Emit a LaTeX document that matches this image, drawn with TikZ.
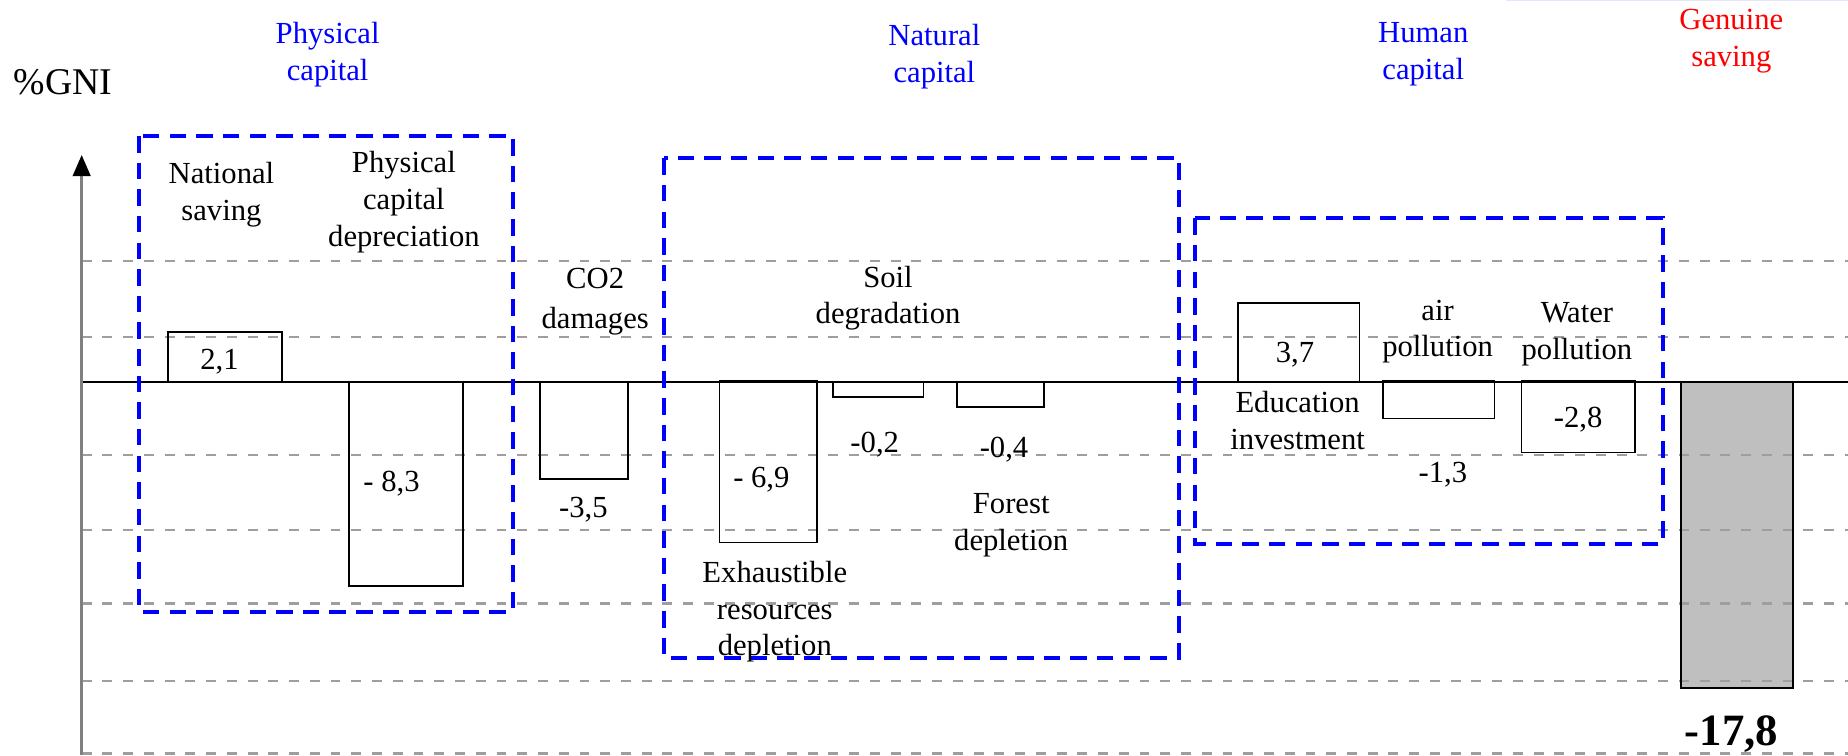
\documentclass[tikz,border=0pt]{standalone}
\usepackage{fontspec}
\setmainfont{Liberation Serif}
\usetikzlibrary{arrows.meta}
\tikzset{
  gridline/.style={draw=black!38, line width=1pt, dash pattern=on 4.2pt off 4.6pt},
  groupbox/.style={draw=blue, line width=1.7pt, dash pattern=on 7pt off 4.3pt},
  barbox/.style={draw=black, line width=0.75pt},
  lbl/.style={font=\fontsize{13}{15.5}\selectfont, align=center, inner sep=0pt},
  grp/.style={lbl, text=blue},
}
\begin{document}
\begin{tikzpicture}[x=0.5pt, y=-0.5pt]
\useasboundingbox (0,0) rectangle (1568,641);
% faint line at top right
\draw[draw=black!12!blue!10, line width=0.6pt] (1278,0.5) -- (1568,0.5);
% genuine saving fill
\fill[black!25] (1426.5,323.8) rectangle (1521,584);
% grid lines
\foreach \yy in {221.7,285.7,386,449.9,512,577.6,639.2}
  \draw[gridline] (69.3,\yy) -- (1568,\yy);
% zero line
\draw[black, line width=0.8pt] (69.3,323.8) -- (1568,323.8);
% axis
\draw[draw=black!50, line width=1.1pt, -{Triangle[length=9pt,width=7.5pt,color=black]}] (69.3,641) -- (69.3,131.5);
% bars
\draw[barbox] (142.3,323.8) rectangle (239,281.4);
\draw[barbox] (296,323.8) rectangle (393,497.2);
\draw[barbox] (458,323.8) rectangle (532.6,406.7);
\draw[barbox] (610.4,322.8) rectangle (693,460.4);
\draw[barbox] (707,323.8) rectangle (783.5,337.1);
\draw[barbox] (811.7,323.8) rectangle (886.1,345.3);
\draw[barbox] (1050.4,323.8) rectangle (1153.5,256.8);
\draw[barbox] (1173.5,322.8) rectangle (1268.1,355);
\draw[barbox] (1291,322.8) rectangle (1387.2,384);
\draw[barbox] (1426.5,323.8) rectangle (1521,584);
% group boxes
\draw[groupbox] (118.1,115.4) rectangle (435,519);
\draw[groupbox] (563.4,134.3) rectangle (1000,558);
\draw[groupbox] (1014,185.2) rectangle (1410.6,461.5);
% axis label
\node[lbl, font=\fontsize{16}{19}\selectfont] (gni) at (53.6,70) {\%GNI};
% group titles
\node[grp] (tphys) at (278,46.5) {Physical\\capital};
\node[grp] (tnat) at (792.8,48) {Natural\\capital};
\node[grp] (thum) at (1207.6,46) {Human\\capital};
\node[lbl, text=red] (tgen) at (1469,35) {Genuine\\saving};
% item labels
\node[lbl] (lnat) at (187.9,165) {National\\saving};
\node[lbl] (ldep) at (342.7,171.5) {Physical\\capital\\depreciation};
\node[lbl, font=\fontsize{13}{17}\selectfont] (lco2) at (505,256) {CO2\\damages};
\node[lbl] (lsoil) at (753.5,253) {Soil\\degradation};
\node[lbl] (lexh) at (657.4,519) {Exhaustible\\resources\\depletion};
\node[lbl] (lfor) at (858,445.8) {Forest\\depletion};
\node[lbl, font=\fontsize{13}{16}\selectfont] (ledu) at (1101,356.8) {Education\\investment};
\node[lbl] (lair) at (1219.8,281.5) {air\\pollution};
\node[lbl] (lwat) at (1338,283.5) {Water\\pollution};
% values
\node[lbl] (vnat) at (186.2,306.9) {2,1};
\node[lbl] (vdep) at (332.2,410) {- 8,3};
\node[lbl] (vco2) at (495,432.7) {-3,5};
\node[lbl] (vexh) at (646,407.3) {- 6,9};
\node[lbl] (vsoil) at (742.2,377.6) {-0,2};
\node[lbl] (vfor) at (851.9,381.8) {-0,4};
\node[lbl] (vedu) at (1098.8,301.2) {3,7};
\node[lbl] (vair) at (1224.3,403) {-1,3};
\node[lbl] (vwat) at (1339,356.4) {-2,8};
\node[lbl, font=\fontsize{19}{22}\selectfont\bfseries] (vgen) at (1469,622.5) {-17,8};
\end{tikzpicture}
\end{document}
